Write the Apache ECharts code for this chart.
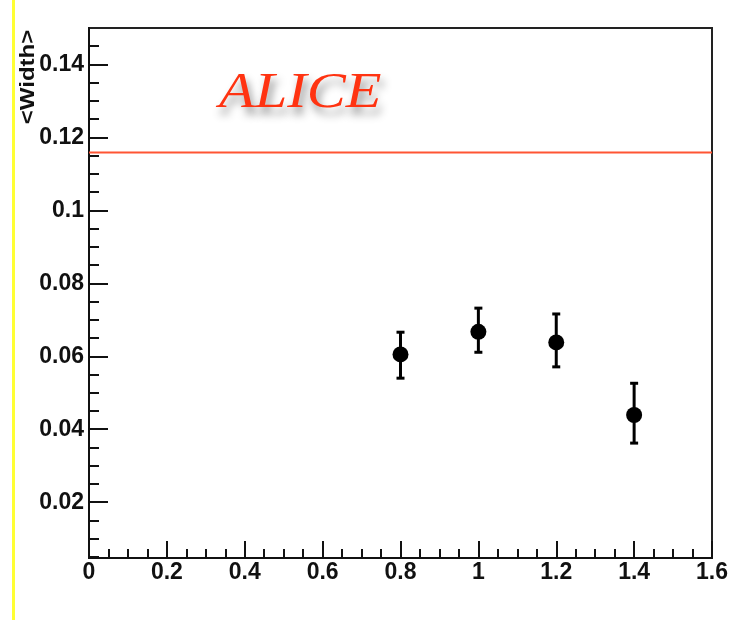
<!DOCTYPE html>
<html>
<head>
<meta charset="utf-8">
<script src="https://cdn.jsdelivr.net/npm/echarts@6/dist/echarts.min.js"></script>
<style>
html,body{margin:0;padding:0;background:#fff;}
#c{width:742px;height:620px;}
</style>
</head>
<body>
<div id="c"></div>
<script>
// ---- data ----
const xValues = [0.8, 1.0, 1.2, 1.4];
const widthValues = [0.0605, 0.0667, 0.0638, 0.0439];
const errLow = [0.0540, 0.0611, 0.0571, 0.0362];
const errHigh = [0.0666, 0.0732, 0.0716, 0.0526];
const referenceLevel = 0.1159;
const yTickLabels = [0.02, 0.04, 0.06, 0.08, 0.1, 0.12, 0.14];
const yMinorTicks = [0.005, 0.01, 0.015, 0.025, 0.03, 0.035, 0.045, 0.05, 0.055, 0.065, 0.07, 0.075,
  0.085, 0.09, 0.095, 0.105, 0.11, 0.115, 0.125, 0.13, 0.135, 0.145];
const xRange = [0, 1.6];
const yRange = [0.0047, 0.15];
const yTitle = '<Width>';
const labelText = 'ALICE';

const chart = echarts.init(document.getElementById('c'), null, {renderer: 'canvas'});

const pts = xValues.map((x, i) => [x, widthValues[i]]);
const errData = xValues.map((x, i) => [x, errLow[i], errHigh[i]]);
const refLine = [[xRange[0], referenceLevel], [xRange[1], referenceLevel]];

const labelFont = {fontFamily: 'Liberation Sans, Arial, sans-serif', fontWeight: 'bold', fontSize: 23, color: '#111'};

const option = {
  backgroundColor: '#fff',
  animation: false,
  grid: {left: 89, right: 30, top: 28, bottom: 62, show: true, borderColor: '#222', borderWidth: 2, backgroundColor: 'transparent'},
  xAxis: {
    type: 'value', min: xRange[0], max: xRange[1], interval: 0.2,
    axisLine: {show: true, lineStyle: {color: '#111', width: 2}},
    axisTick: {show: true, inside: true, length: 17, lineStyle: {color: '#111', width: 2}},
    minorTick: {show: true, splitNumber: 4, length: 9, lineStyle: {color: '#111', width: 2}},
    splitLine: {show: false},
    axisLabel: Object.assign({margin: 3, showMinLabel: true, showMaxLabel: true}, labelFont)
  },
  yAxis: [{
    type: 'value', min: yRange[0], max: yRange[1],
    axisLine: {show: true, lineStyle: {color: '#111', width: 2}},
    axisTick: {show: true, inside: true, length: 19, customValues: yTickLabels, lineStyle: {color: '#111', width: 2}},
    splitLine: {show: false},
    axisLabel: Object.assign({margin: 5, customValues: yTickLabels}, labelFont)
  }, {
    type: 'value', min: yRange[0], max: yRange[1], position: 'left',
    axisLine: {show: false},
    axisTick: {show: true, inside: true, length: 10, customValues: yMinorTicks, lineStyle: {color: '#111', width: 2}},
    splitLine: {show: false},
    axisLabel: {show: false}
  }],
  graphic: [
    {type: 'rect', left: 12, top: 0, shape: {width: 3, height: 620}, style: {fill: '#ffff33'}, silent: true},
    {type: 'text', x: 28, y: 77, rotation: Math.PI / 2, scaleX: 1.2, z: 100,
      style: {text: yTitle, fill: '#111', font: 'bold 20px "Liberation Sans", Arial, sans-serif', textAlign: 'center', textVerticalAlign: 'middle'}},
    {type: 'text', x: 219, y: 69, scaleX: 1.17,
      style: {text: labelText, fill: '#ff3311', font: 'italic 50px "Liberation Serif", "Times New Roman", serif', textAlign: 'left', textVerticalAlign: 'top',
        textShadowBlur: 8, textShadowColor: 'rgba(0,0,0,0.45)', textShadowOffsetX: 3, textShadowOffsetY: 7,
        shadowBlur: 8, shadowColor: 'rgba(0,0,0,0.45)', shadowOffsetX: 3, shadowOffsetY: 7}}
  ],
  series: [
    {
      type: 'line', name: 'ref', yAxisIndex: 0, z: 2,
      data: refLine, symbol: 'none', silent: true,
      lineStyle: {color: '#ff5533', width: 2}
    },
    {
      type: 'custom', name: 'err', yAxisIndex: 0, z: 3,
      data: errData,
      renderItem: function (params, api) {
        const x = api.value(0);
        const lo = api.coord([x, api.value(1)]);
        const hi = api.coord([x, api.value(2)]);
        const cw = 4;
        const st = {stroke: '#000', lineWidth: 3};
        return {type: 'group', children: [
          {type: 'line', shape: {x1: lo[0], y1: lo[1], x2: hi[0], y2: hi[1]}, style: st},
          {type: 'line', shape: {x1: lo[0] - cw, y1: lo[1], x2: lo[0] + cw, y2: lo[1]}, style: st},
          {type: 'line', shape: {x1: hi[0] - cw, y1: hi[1], x2: hi[0] + cw, y2: hi[1]}, style: st}
        ]};
      }
    },
    {
      type: 'scatter', name: 'width', yAxisIndex: 0, z: 4,
      data: pts, symbol: 'circle', symbolSize: 16,
      itemStyle: {color: '#000', opacity: 1}
    }
  ]
};
chart.setOption(option);
</script>
</body>
</html>
